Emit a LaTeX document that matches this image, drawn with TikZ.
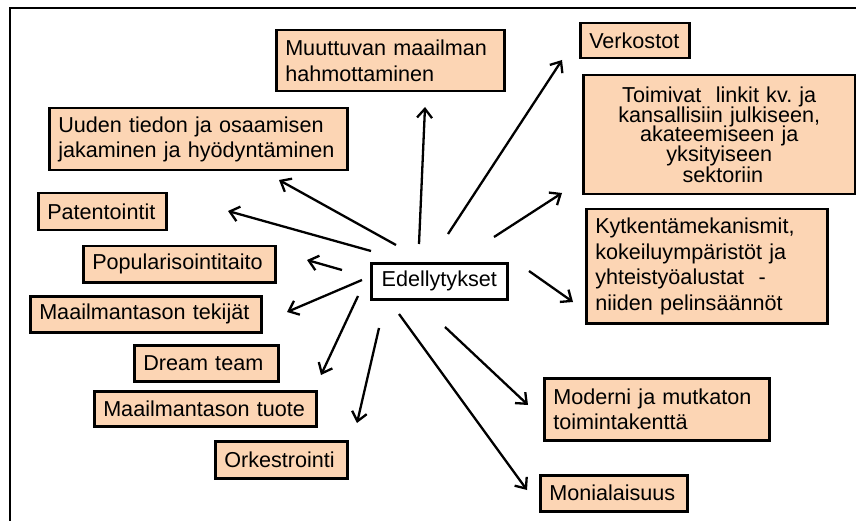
\documentclass[tikz,border=0pt]{standalone}
\usepackage{fontspec}
\setmainfont{Liberation Sans}
\usetikzlibrary{arrows.meta}
\definecolor{peach}{HTML}{FCD5B4}
\begin{document}
\begin{tikzpicture}[x=1pt,y=-1pt,
  box/.style={draw=black, line width=2.5pt, fill=peach, anchor=north west,
    inner xsep=9pt, inner ysep=0pt, align=left,
    font=\fontsize{21.6}{25.5}\selectfont},
  tightbox/.style={box, align=center,
    font=\fontsize{21.6}{19.5}\selectfont},
  hubbox/.style={box, fill=white, align=center},
  link/.style={line width=2.3pt, -{Straight Barb[length=9pt,width=15pt]}},
  frame/.style={line width=2.8pt, line cap=rect},
]
\useasboundingbox (0,0) rectangle (856,521);

% outer frame (top and left edges)
\draw[frame] (856,8) -- (10,8) -- (10,521);

% central node
\node[hubbox, minimum width=136, minimum height=36, text width=118] (hub) at (370,262) {Edellytykset};

% left-hand boxes
\node[box, minimum width=228, minimum height=61, text width=210] (muut) at (275,29) {Muuttuvan maailman\\hahmottaminen};
\node[box, minimum width=298, minimum height=62, text width=280] (uuden) at (48,107) {Uuden tiedon ja osaamisen\\jakaminen ja hyödyntäminen};
\node[box, minimum width=128, minimum height=37, text width=110] (pat) at (37,192) {Patentointit};
\node[box, minimum width=192, minimum height=36, text width=174] (pop) at (82,245) {Popularisointitaito};
\node[box, minimum width=231, minimum height=36, text width=213] (tek) at (29,295) {Maailmantason tekijät};
\node[box, minimum width=144, minimum height=36, text width=126] (dream) at (133,344) {Dream team};
\node[box, minimum width=222, minimum height=35, text width=204] (tuote) at (93,390) {Maailmantason tuote};
\node[box, minimum width=132, minimum height=37, text width=114] (ork) at (214,440) {Orkestrointi};

% right-hand boxes
\node[box, minimum width=109, minimum height=35, text width=91] (verk) at (579,22) {Verkostot};
\node[tightbox, minimum width=272, minimum height=119, text width=254] (toim) at (582,74)
  {\lineskiplimit=-50pt\relax Toimivat\ \ linkit kv.\ ja\\kansallisiin julkiseen,\\akateemiseen ja\\yksityiseen\\\ sektoriin};
\node[box, minimum width=241, minimum height=114, text width=223] (kytk) at (585,208) {Kytkentämekanismit,\\kokeiluympäristöt ja\\yhteistyöalustat\ \ -\\niiden pelinsäännöt};
\node[box, minimum width=225, minimum height=62, text width=207] (mod) at (543,377) {Moderni ja mutkaton\\toimintakenttä};
\node[box, minimum width=147, minimum height=36, text width=129] (moni) at (539,474) {Monialaisuus};

% arrow end points around the central node
\coordinate (s-muut) at (419,244);   \coordinate (e-muut) at (425,107);
\coordinate (s-uuden) at (396,245);  \coordinate (e-uuden) at (279,180);
\coordinate (s-pat) at (371,251);    \coordinate (e-pat) at (228,211);
\coordinate (s-pop) at (342,270);    \coordinate (e-pop) at (307,260);
\coordinate (s-tek) at (362,280);    \coordinate (e-tek) at (287,312);
\coordinate (s-dream) at (358,296);  \coordinate (e-dream) at (321,375);
\coordinate (s-ork) at (379,328);    \coordinate (e-ork) at (357,423);
\coordinate (s-moni) at (399,314);   \coordinate (e-moni) at (527,490);
\coordinate (s-mod) at (445,327);    \coordinate (e-mod) at (528,405);
\coordinate (s-kytk) at (529,271);   \coordinate (e-kytk) at (573,302);
\coordinate (s-toim) at (494,237);   \coordinate (e-toim) at (562,193);
\coordinate (s-verk) at (448,234);   \coordinate (e-verk) at (562,60);

% connectors
\foreach \t in {muut,uuden,pat,pop,tek,dream,ork,moni,mod,kytk,toim,verk}
  \draw[link] (s-\t) -- (e-\t);
\end{tikzpicture}
\end{document}
